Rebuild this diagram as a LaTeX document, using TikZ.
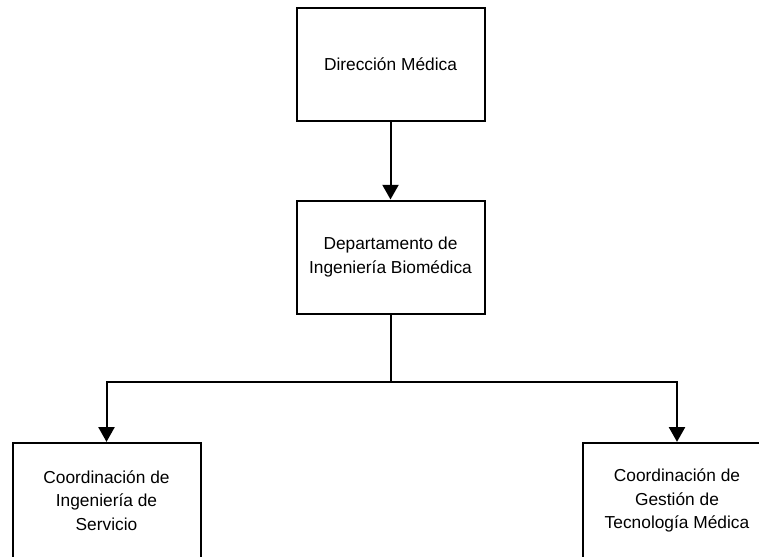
\documentclass[tikz,border=0pt]{standalone}
\usepackage{fontspec}
\setmainfont{Liberation Sans}
\usetikzlibrary{arrows.meta}
\begin{document}
\begin{tikzpicture}[x=0.75pt,y=-0.75pt,
  box/.style={draw=black,line width=1.5pt,fill=white,minimum width=141pt,minimum height=84.75pt,
    align=center,font=\fontsize{13pt}{17.5pt}\selectfont,inner sep=2pt},
  conn/.style={draw=black,line width=1.5pt,-{Triangle[length=11pt,width=12pt]}},
  link/.style={draw=black,line width=1.5pt}]
\useasboundingbox (0,0) rectangle (759,556);
\node[box] (a) at (390.5,64.5) {Dirección Médica};
\node[box] (b) at (390.5,257) {Departamento de\\Ingeniería Biomédica};
\node[box,minimum height=86.5pt] (c) at (106.5,500.5) {Coordinación de\\Ingeniería de\\Servicio};
\node[box,minimum height=86.5pt] (d) at (677,500.5) {Coordinación de\\Gestión de\\Tecnología Médica};
\coordinate (j) at (390.5,382);
\draw[conn] (a) -- (b);
\draw[link] (b) -- (j);
\draw[conn] (j) -| (c);
\draw[conn] (j) -| (d);
\end{tikzpicture}
\end{document}
